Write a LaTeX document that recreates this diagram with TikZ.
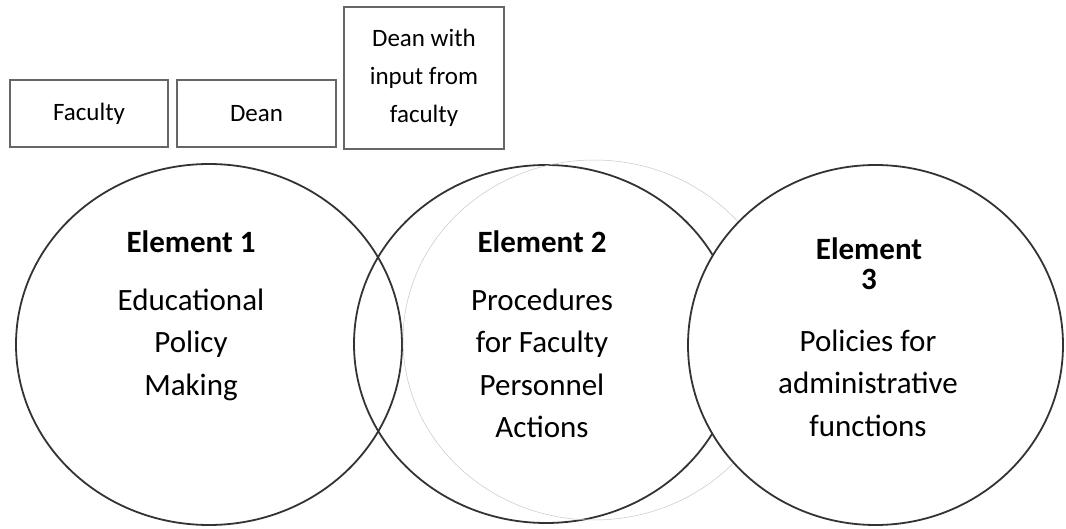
\documentclass[tikz,border=0pt]{standalone}
\usepackage{fontspec}
\setmainfont{Carlito}
\usetikzlibrary{shapes.geometric,shadows}
\begin{document}
\begin{tikzpicture}[x=1pt,y=-1pt,
  ring/.style={ellipse, draw=black!80, line width=1.8pt, inner sep=0pt},
  faint/.style={ellipse, draw=black!22, line width=0.5pt, inner sep=0pt},
  title/.style={font=\bfseries\fontsize{31}{30}\selectfont, align=center, inner sep=0pt},
  body/.style={font=\fontsize{31}{42.5}\selectfont, align=center, inner sep=0pt},
  rolebox/.style={draw=black!60, line width=1.5pt, fill=white, align=center, inner sep=0pt,
    font=\fontsize{25}{38}\selectfont,
    drop shadow={shadow xshift=1pt, shadow yshift=-1.5pt, fill=black!60, opacity=0.6}}
]
\useasboundingbox (0,0) rectangle (1066,529);

% circles
\node[ring, minimum width=386pt, minimum height=361pt] (c1) at (209,344.5) {};
\node[ring, minimum width=384pt, minimum height=358pt] (c2) at (546,344) {};
\node[faint, minimum width=382pt, minimum height=360pt] (c2s) at (594,340) {};
\node[ring, fill=white, minimum width=375pt, minimum height=360pt] (c3) at (875.5,345) {};

% circle texts
\node[title] (t1) at (191,242) {Element 1};
\node[body] (b1) at (191,344.5) {Educational\\Policy\\Making};
\node[title] (t2) at (542,242) {Element 2};
\node[body] (b2) at (542,363.5) {Procedures\\for Faculty\\Personnel\\Actions};
\node[title] (t3) at (869,264) {Element\\3};
\node[body] (b3) at (868,383) {Policies for\\administrative\\functions};

% role boxes
\node[rolebox, minimum width=158pt, minimum height=67pt] (r1) at (89,113.5) {Faculty};
\node[rolebox, minimum width=159pt, minimum height=67pt] (r2) at (256.5,113.5) {Dean};
\node[rolebox, minimum width=160pt, minimum height=142pt] (r3) at (424,78) {Dean with\\input from\\faculty};
\end{tikzpicture}
\end{document}
